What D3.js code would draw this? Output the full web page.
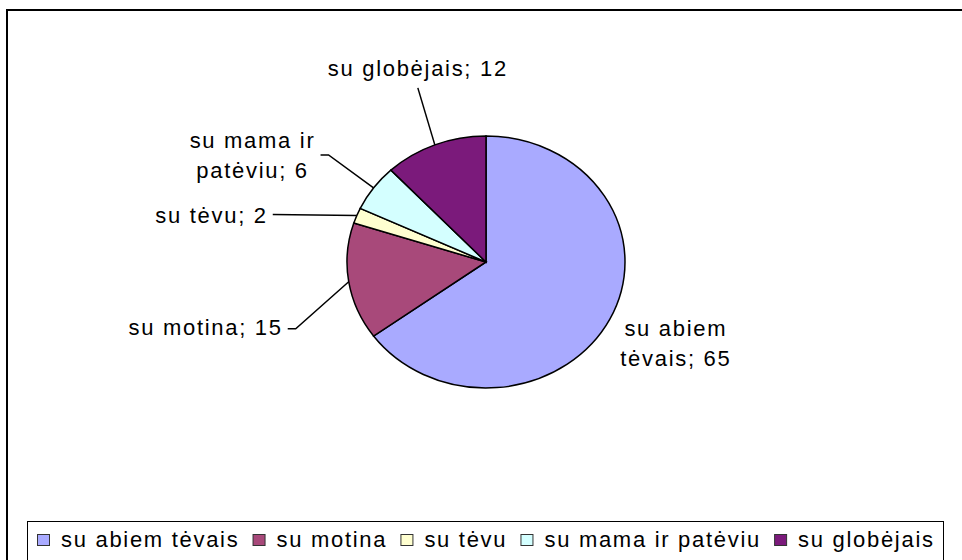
<!DOCTYPE html>
<html>
<head>
<meta charset="utf-8">
<script src="https://cdn.jsdelivr.net/npm/d3@7"></script>
<style>
  html, body { margin: 0; padding: 0; background: #fff; }
  svg { display: block; font-family: "Liberation Sans", Arial, sans-serif; }
</style>
</head>
<body>
<div id="svg-container"></div>
<script>
// chart data
const categories = ["su abiem tėvais", "su motina", "su tėvu", "su mama ir patėviu", "su globėjais"];
const values = [65, 15, 2, 6, 12];
const colors = ["#A9AAFF", "#A8497A", "#FFFFD0", "#D4FFFF", "#7B1A7B"];
// label text lines (as in the chart)
const labelLines = [
    ["su abiem", "tėvais; 65"],
    ["su motina; 15"],
    ["su tėvu; 2"],
    ["su mama ir", "patėviu; 6"],
    ["su globėjais; 12"]
];

document.addEventListener("DOMContentLoaded", function() {

const width = 962, height = 560;
const cx = 486, cy = 262;
const rx = 139, ry = 126;

const svg = d3.select("#svg-container").append("svg")
    .attr("width", width)
    .attr("height", height)
    .attr("viewBox", [0, 0, width, height]);

// outer frame (runs past the picture on right / bottom)
svg.append("rect")
    .attr("x", 7).attr("y", 10)
    .attr("width", 980).attr("height", 600)
    .attr("fill", "none")
    .attr("stroke", "#000")
    .attr("stroke-width", 2);

const data = categories.map((c, i) => ({name: c, value: values[i], color: colors[i], lines: labelLines[i]}));

const pie = d3.pie().sort(null).value(d => d.value);
const arcs = pie(data);
const arc = d3.arc().innerRadius(0).outerRadius(rx);

// pie is drawn as ellipse: squash y
const pieG = svg.append("g")
    .attr("transform", `translate(${cx},${cy}) scale(1,${ry / rx})`);

pieG.selectAll("path")
    .data(arcs)
    .join("path")
    .attr("d", arc)
    .attr("fill", d => d.data.color)
    .attr("stroke", "#000")
    .attr("stroke-width", 1.5)
    .attr("vector-effect", "non-scaling-stroke");

// edge point at slice mid angle
function edge(d) {
    const a = (d.startAngle + d.endAngle) / 2;
    return [cx + rx * Math.sin(a), cy - ry * Math.cos(a)];
}

// label layout: leader path points relative to edge, text anchor point, alignment
const labelLayout = [
    {leader: null, tx: 66, ty: 17, anchor: "middle"},
    {leader: [[-53, 47], [-61, 47]], tx: -66, ty: 53, anchor: "end"},
    {leader: [[-84, -1]], tx: -89, ty: 7, anchor: "end"},
    {leader: [[-45, -33], [-53, -33]], tx: -121, ty: -40, anchor: "middle"},
    {leader: [[-17, -57]], tx: -17, ty: -69, anchor: "middle"}
];

const labels = svg.append("g")
    .attr("font-size", 22)
    .attr("letter-spacing", 1.7)
    .attr("fill", "#000");

arcs.forEach((d, i) => {
    const [ex, ey] = edge(d);
    const L = labelLayout[i];
    if (L.leader) {
        const pts = [[ex, ey]].concat(L.leader.map(p => [ex + p[0], ey + p[1]]));
        svg.append("path")
            .attr("d", d3.line()(pts))
            .attr("fill", "none")
            .attr("stroke", "#000")
            .attr("stroke-width", 1.5);
    }
    const t = labels.append("text")
        .attr("text-anchor", L.anchor);
    d.data.lines.forEach((ln, j) => {
        t.append("tspan")
            .attr("x", ex + L.tx)
            .attr("y", ey + L.ty + j * 30)
            .text(ln);
    });
});

// legend
const legendG = svg.append("g");
const boxX = 27, boxW = 916;
legendG.append("rect")
    .attr("x", boxX + 0.5).attr("y", 521.5)
    .attr("width", boxW).attr("height", 60)
    .attr("fill", "#fff")
    .attr("stroke", "#000")
    .attr("stroke-width", 1);

// measure items first, then spread them across the box
const items = data.map(d => {
    const t = legendG.append("text")
        .attr("y", 547)
        .attr("font-size", 22)
        .attr("letter-spacing", 1.7)
        .text(d.name);
    return {d, t, w: 24 + t.node().getComputedTextLength() - 1.7};
});
const pad = 10;
const total = d3.sum(items, it => it.w);
const gap = (boxW - 2 * pad - total) / (items.length - 1);

let lx = boxX + pad;
items.forEach(it => {
    legendG.append("rect")
        .attr("x", lx + 0.5).attr("y", 534.5)
        .attr("width", 12).attr("height", 11)
        .attr("fill", it.d.color)
        .attr("stroke", "#333")
        .attr("stroke-width", 1);
    it.t.attr("x", lx + 24);
    lx += it.w + gap;
});

});
</script>
</body>
</html>
